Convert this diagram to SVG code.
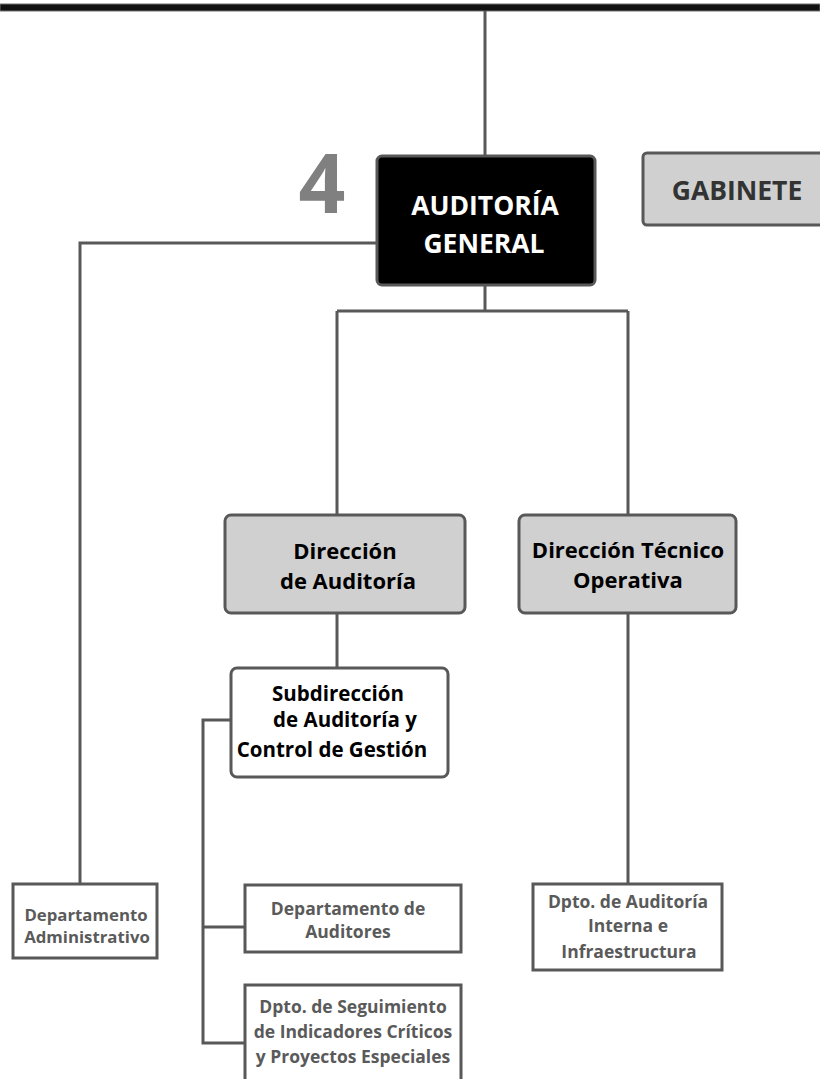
<svg xmlns="http://www.w3.org/2000/svg" width="820" height="1079" viewBox="0 0 820 1079">
  <style>
    .ln { fill: none; stroke: #585858; stroke-width: 3; stroke-linejoin: miter; }
    .box { stroke: #585858; stroke-width: 3; }
    .grey { fill: #d0d0d0; }
    .white { fill: #ffffff; }
    .t { font-family: "Open Sans", "Liberation Sans", sans-serif; font-weight: bold; text-anchor: middle; }
    .big { font-size: 26.5px; }
    .mid { font-size: 22px; fill: #000; }
    .sm { font-size: 20.5px; fill: #000; }
    .xs { font-size: 17.5px; fill: #5a5a5a; }
    .xs2 { font-size: 16.8px; fill: #5a5a5a; }
  </style>
  <rect width="820" height="1079" fill="#ffffff"/>

  <!-- top bar -->
  <rect x="0" y="4" width="820" height="7" fill="#111111" stroke="#707070" stroke-width="1"/>

  <!-- connectors -->
  <g id="connectors">
    <path class="ln" d="M485 11 V157"/>
    <path class="ln" d="M378 243 H80 V884"/>
    <path class="ln" d="M485 284 V311 M337 311 H628 M337 311 V516 M628 311 V516"/>
    <path class="ln" d="M337 612 V668"/>
    <path class="ln" d="M231 720 H203 V1043 H245 M203 927 H245"/>
    <path class="ln" d="M628 612 V884"/>
  </g>

  <!-- level number -->
  <text x="322" y="213" font-family="'Open Sans', 'Liberation Sans', sans-serif" font-weight="bold" font-size="82" fill="#808080" text-anchor="middle">4</text>

  <g id="auditoria-general">
    <rect class="box" x="377" y="156" width="218" height="129" rx="5" fill="#000000"/>
    <text class="t big" x="485" y="215" fill="#ffffff">AUDITORÍA</text>
    <text class="t big" x="484" y="253" fill="#ffffff">GENERAL</text>
  </g>

  <g id="gabinete">
    <rect class="box grey" x="643" y="153" width="190" height="72" rx="4"/>
    <text class="t big" x="737" y="200" fill="#333333">GABINETE</text>
  </g>

  <g id="direccion-auditoria">
    <rect class="box grey" x="225" y="515" width="240" height="98" rx="6"/>
    <text class="t mid" x="345" y="559">Dirección</text>
    <text class="t mid" x="348" y="589">de Auditoría</text>
  </g>

  <g id="direccion-tecnico">
    <rect class="box grey" x="519" y="515" width="217" height="98" rx="6"/>
    <text class="t mid" x="628" y="558">Dirección Técnico</text>
    <text class="t mid" x="628" y="588">Operativa</text>
  </g>

  <g id="subdireccion">
    <rect class="box white" x="231" y="668" width="217" height="109" rx="6"/>
    <text class="t sm" x="338" y="701">Subdirección</text>
    <text class="t sm" x="345" y="727">de Auditoría y</text>
    <text class="t sm" x="332" y="757">Control de Gestión</text>
  </g>

  <g id="depto-administrativo">
    <rect class="box white" x="13" y="884" width="144" height="74"/>
    <text class="t xs2" x="86" y="921">Departamento</text>
    <text class="t xs2" x="87" y="943">Administrativo</text>
  </g>

  <g id="depto-auditores">
    <rect class="box white" x="245" y="885" width="216" height="67"/>
    <text class="t xs" x="348" y="915">Departamento de</text>
    <text class="t xs" x="348" y="938">Auditores</text>
  </g>

  <g id="dpto-seguimiento">
    <rect class="box white" x="245" y="985" width="216" height="110"/>
    <text class="t xs" x="353" y="1013">Dpto. de Seguimiento</text>
    <text class="t xs" x="353" y="1038">de Indicadores Críticos</text>
    <text class="t xs" x="353" y="1063">y Proyectos Especiales</text>
  </g>

  <g id="dpto-auditoria-interna">
    <rect class="box white" x="533" y="884" width="189" height="86"/>
    <text class="t xs" x="628" y="908">Dpto. de Auditoría</text>
    <text class="t xs" x="628" y="932">Interna e</text>
    <text class="t xs" x="629" y="958">Infraestructura</text>
  </g>
</svg>
